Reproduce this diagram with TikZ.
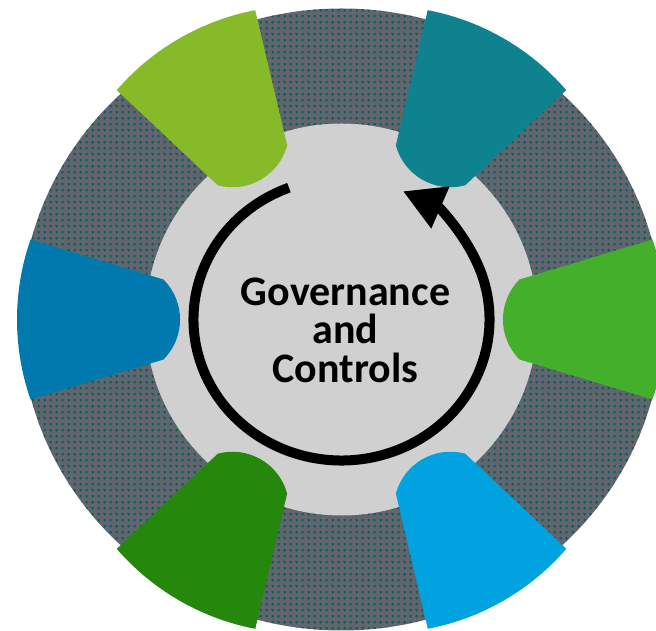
\documentclass[tikz,border=0pt]{standalone}
\usepackage{fontspec}
\setmainfont{Carlito}
\usepackage{tikz}
\usetikzlibrary{arrows.meta}
\usetikzlibrary{patterns.meta}

\definecolor{ringgray}{HTML}{60666D}
\definecolor{dotteal}{HTML}{0A5A5E}
\definecolor{diskgray}{HTML}{D0D0D0}
\definecolor{segright}{HTML}{43AF2B}
\definecolor{segtopr}{HTML}{0E838F}
\definecolor{segtopl}{HTML}{86BA28}
\definecolor{segleft}{HTML}{007AAE}
\definecolor{segbotl}{HTML}{26870D}
\definecolor{segbotr}{HTML}{00A3DF}

\tikzdeclarepattern{
  name=ringdots,
  type=uncolored,
  bounding box={(0pt,0pt) and (6pt,5.8pt)},
  tile size={(6pt,5.8pt)},
  code={\fill (1.8pt,1.7pt) rectangle (4.2pt,4.1pt);}
}

\begin{document}
\begin{tikzpicture}[x=1pt,y=1pt,
    sector/.pic={\path[pic actions] (178,40) -- (311,80)
        arc[start angle=19.15,end angle=-19.15,radius=243.8] -- (178,-40)
        arc[start angle=224.9,end angle=135.1,radius=56.7] -- cycle;},
    cycle arrow/.style={line width=10pt,-{Triangle[length=41pt,width=43pt]}},
    caption/.style={inner sep=0pt,align=center,font=\bfseries\fontsize{42}{38.5}\selectfont}]
    \useasboundingbox (0,0) rectangle (656,631);
    \clip (0,0) rectangle (656,631);
    \coordinate (C) at (341.5,311.5);

    % outer ring and inner disk
    \fill[ringgray] (C) ellipse[x radius=321,y radius=311];
    \fill[pattern=ringdots,pattern color=dotteal] (C) ellipse[x radius=321,y radius=311];
    \fill[diskgray] (C) circle[radius=196];

    % the six sectors
    \pic[fill=segright,rotate=0] (sR) at (C) {sector};
    \pic[fill=segtopr,rotate=60] (sTR) at (C) {sector};
    \pic[fill=segtopl,rotate=120] (sTL) at (C) {sector};
    \pic[fill=segleft,rotate=180] (sL) at (C) {sector};
    \pic[fill=segbotl,rotate=240] (sBL) at (C) {sector};
    \pic[fill=segbotr,rotate=300] (sBR) at (C) {sector};

    \draw[cycle arrow] (C) ++(110.8:148 and 141)
        arc[start angle=110.8,end angle=425.5,x radius=148,y radius=141];

    \node[caption,anchor=north] (gov) at (345.5,353.5) {Governance\\and\\Controls};
\end{tikzpicture}
\end{document}
